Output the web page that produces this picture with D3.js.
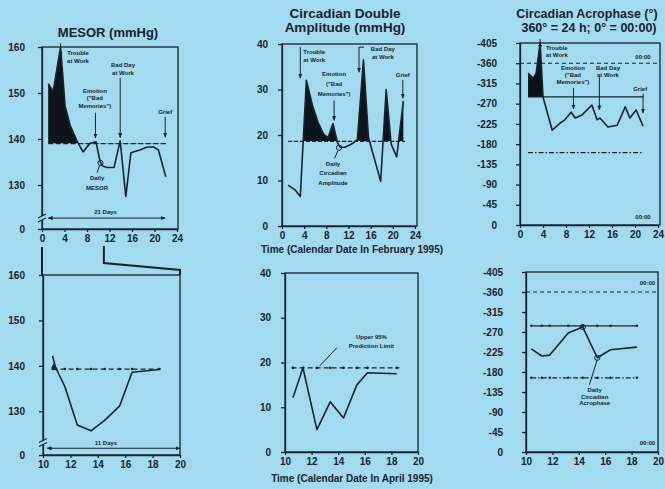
<!DOCTYPE html>
<html>
<head>
<meta charset="utf-8">
<script src="https://cdn.jsdelivr.net/npm/d3@7"></script>
<style>
body { margin: 0; background: #a2dbef; }
svg { display: block; font-family: "Liberation Sans", Arial, sans-serif; }
</style>
</head>
<body>
<script>
//february 1995 series: [calendar day, value]
var mesorFeb = [[1.1,152],[2,150.4],[3.3,160],[4.1,147.2],[5,143],[6.2,139.6],[7.3,137.2],[8.5,139],[9.6,139.4],
  [10.3,135.2],[10.7,134.2],[11.5,133.8],[12.8,133.8],[13.9,139.6],[14.9,127.5],[15.8,137],[17.4,137.6],
  [18.6,138.2],[19.8,138.3],[20.7,137.6],[22,131.8]];
var ampFeb = [[1.1,9],[2.3,8],[3.3,6.5],[4.4,32],[5.5,26.5],[6.5,22.8],[7.5,20.2],[8.3,19.4],[9.2,22.5],
  [10,18.4],[10.5,17.3],[11.4,17.3],[12.8,18.2],[13.6,19],[14.7,36.5],[15.6,19.5],[17.8,9.8],[18.8,30],
  [19.7,18],[20.7,15.2],[21.9,27.5]];
var acroFeb = [[1.4,-338],[2.3,-327],[2.8,-338],[3.5,-405],[4.0,-285],[5.6,-211],[7.0,-227],[7.8,-234],
  [8.9,-251],[9.6,-238],[10.8,-245],[12.5,-267],[13.4,-234],[13.9,-238],[15.3,-218],[16.9,-222],
  [18.3,-263],[19.1,-238],[20.2,-256],[21.4,-220]];

//april 1995 series
var mesorApr = [[10.7,142.2],[10.9,139.8],[11.6,135.4],[12.5,127],[13.5,125.7],[14.5,128],[15.6,131.2],[16.5,138.6],[18.5,139.2]];
var ampApr = [[10.6,12.1],[11.35,18.8],[12.4,5],[13.4,11.2],[14.4,7.6],[15.4,15],[16.2,17.7],[18.4,17.5]];
var acroApr = [[10.4,-232],[11.2,-216],[11.8,-218],[13.2,-268],[14.3,-281],[15.4,-212],[16.4,-230],[18.4,-236]];

//reference levels (upper 95% limits, acrophase limits, midnight)
var mesorFebRef = 139, ampFebRef = 18.6, acroFebRef = -285, acroFebLow = -161;
var mesorAprRef = 139.3, ampAprRef = 18.8, acroAprRef = -284, acroAprLow = -167;
var midnight = -360;

//ticks
var febTicks = [0,4,8,12,16,20,24];
var aprTicks = [10,12,14,16,18,20];
var mesorTicks = [0,130,140,150,160];
var ampTicks = [0,10,20,30,40];
var acroTicks = [0,-45,-90,-135,-180,-225,-270,-315,-360,-405];

var ink = "#18232c";
var bg = "#a2dbef";

var svg = d3.select("body").append("svg").attr("width", 665).attr("height", 489);
var defs = svg.append("defs");
defs.append("marker").attr("id", "head")
  .attr("viewBox", "0 0 10 10").attr("refX", 9).attr("refY", 5)
  .attr("markerWidth", 5).attr("markerHeight", 5).attr("orient", "auto-start-reverse")
  .append("path").attr("d", "M0,1L10,5L0,9z").attr("fill", ink);

//panel layout
var panels = [
  {left:42, right:177, frameR:178, top:47, bottom:229, xd:[0,24], xt:febTicks, yd:[0,125,160],
   yt:mesorTicks, pad:13, data:mesorFeb, ref:mesorFebRef, span:[1.1,22], dash:"5,2.5"},
  {left:282, right:415, frameR:417, top:44, bottom:226, xd:[0,24], xt:febTicks, yd:[0,40],
   yt:ampTicks, pad:10, data:ampFeb, ref:ampFebRef, span:[1.1,22.2], dash:"4,2"},
  {left:520, right:658, frameR:660, top:43, bottom:225, xd:[0,24], xt:febTicks, yd:[0,-405],
   yt:acroTicks, pad:19, data:acroFeb, ref:acroFebRef, span:[1.4,21.5], dash:null, low:acroFebLow},
  {left:43, right:180, frameR:180, top:275, bottom:455, xd:[10,20], xt:aprTicks, yd:[0,125,160],
   yt:mesorTicks, pad:14, data:mesorApr, ref:mesorAprRef, span:[10.7,18.5], dash:"5,3", dots:true},
  {left:285, right:418, frameR:418, top:273, bottom:452, xd:[10,20], xt:aprTicks, yd:[0,40],
   yt:ampTicks, pad:10, data:ampApr, ref:ampAprRef, span:[10.5,18.6], dash:"5,3", dots:true},
  {left:526, right:658, frameR:658, top:272, bottom:452, xd:[10,20], xt:aprTicks, yd:[0,-405],
   yt:acroTicks, pad:19, data:acroApr, ref:acroAprRef, span:[10.4,18.4], dash:null, dots:true, low:acroAprLow}
];

panels.forEach(function(p, i) {
  p.x = d3.scaleLinear().domain(p.xd).range([p.left, p.right]);
  if (p.yd.length === 3) {
    //broken axis: 0 at the bottom, then 125..160
    p.y = d3.scaleLinear().domain(p.yd).range([p.bottom, p.bottom - 21, p.top]);
  } else {
    p.y = d3.scaleLinear().domain(p.yd).range([p.bottom, p.top]);
  }
  drawPanel(p, i);
});

function drawPanel(p, i) {
  var x = p.x, y = p.y;
  var g = svg.append("g");

  //fill above the reference level
  if (!p.dots) {
    defs.append("clipPath").attr("id", "clip" + i)
      .append("rect").attr("x", p.left).attr("y", p.top - 30)
      .attr("width", p.right - p.left).attr("height", y(p.ref) - p.top + 30);
    g.append("path").datum(p.data)
      .attr("clip-path", "url(#clip" + i + ")")
      .attr("d", d3.area().x(function(d) { return x(d[0]); }).y0(y(p.ref)).y1(function(d) { return y(d[1]); }))
      .attr("fill", "#0d1318");
  }

  //frame
  g.append("rect").attr("x", p.left).attr("y", p.top)
    .attr("width", p.frameR - p.left).attr("height", p.bottom - p.top)
    .attr("fill", "none").attr("stroke", ink).attr("stroke-width", 1.3);

  //axes
  var ax = g.append("g").attr("transform", "translate(0," + p.bottom + ")")
    .call(d3.axisBottom(x).tickValues(p.xt).tickSize(3).tickSizeOuter(0).tickPadding(3));
  var ay = g.append("g").attr("transform", "translate(" + p.left + ",0)")
    .call(d3.axisLeft(y).tickValues(p.yt).tickSize(4).tickSizeOuter(0).tickPadding(p.pad)
      .tickFormat(function(d) { return String(d); }));
  [ax, ay].forEach(function(a) {
    a.attr("font-family", null).attr("font-size", 10).attr("font-weight", "bold");
    a.selectAll("path,line").attr("stroke", ink).attr("stroke-width", 1.3);
    a.selectAll("text").attr("fill", ink);
  });

  //acrophase extra levels
  if (p.low !== undefined) {
    g.append("line").attr("x1", p.left).attr("x2", p.frameR)
      .attr("y1", y(midnight)).attr("y2", y(midnight))
      .attr("stroke", ink).attr("stroke-width", 1.1).attr("stroke-dasharray", "4,3");
    g.append("line").attr("x1", x(p.span[0])).attr("x2", x(p.span[1]))
      .attr("y1", y(p.low)).attr("y2", y(p.low))
      .attr("stroke", ink).attr("stroke-width", 1.2).attr("stroke-dasharray", "5,2,1.5,2");
    if (p.dots) refDots(g, p, p.low);
  }

  //reference line
  g.append("line").attr("x1", x(p.span[0])).attr("x2", x(p.span[1]))
    .attr("y1", y(p.ref)).attr("y2", y(p.ref))
    .attr("stroke", ink).attr("stroke-width", 1.2)
    .attr("stroke-dasharray", p.dash);
  if (p.dots) refDots(g, p, p.ref);

  //daily series
  g.append("path").datum(p.data)
    .attr("d", d3.line().x(function(d) { return x(d[0]); }).y(function(d) { return y(d[1]); }))
    .attr("fill", "none").attr("stroke", ink).attr("stroke-width", 1.6).attr("stroke-linejoin", "round");

  p.g = g;
}

function refDots(g, p, level) {
  g.selectAll(null).data(p.data).enter().append("circle")
    .attr("cx", function(d) { return p.x(d[0]); }).attr("cy", p.y(level))
    .attr("r", 1.3).attr("fill", ink);
}

//helpers for annotations (positions in data units of a panel)
function note(p, d, v, lines, size) {
  var t = p.g.append("text").attr("x", p.x(d)).attr("text-anchor", "middle")
    .attr("font-size", size || 6).attr("font-weight", "bold").attr("fill", ink);
  lines.forEach(function(s, k) {
    t.append("tspan").attr("x", p.x(d)).attr("y", p.y(v[k])).attr("dy", "0.35em").text(s);
  });
}
function arrow(p, d, v1, v2) {
  p.g.append("line").attr("x1", p.x(d)).attr("x2", p.x(d)).attr("y1", p.y(v1)).attr("y2", p.y(v2))
    .attr("stroke", ink).attr("stroke-width", 1).attr("marker-end", "url(#head)");
}
function span(p, d1, d2, v) {
  p.g.append("line").attr("x1", p.x(d1)).attr("x2", p.x(d2)).attr("y1", p.y(v)).attr("y2", p.y(v))
    .attr("stroke", ink).attr("stroke-width", 1)
    .attr("marker-start", "url(#head)").attr("marker-end", "url(#head)");
}
function leader(p, d1, v1, d2, v2) {
  p.g.append("line").attr("x1", p.x(d1)).attr("y1", p.y(v1)).attr("x2", p.x(d2)).attr("y2", p.y(v2))
    .attr("stroke", ink).attr("stroke-width", 1);
}
function ring(p, d, v) {
  p.g.append("circle").attr("cx", p.x(d)).attr("cy", p.y(v)).attr("r", 2.6)
    .attr("fill", "none").attr("stroke", ink).attr("stroke-width", 1);
}
function axisBreak(p, v) {
  var yb = p.y(v), xb = p.left;
  p.g.append("rect").attr("x", xb - 2).attr("y", yb - 2).attr("width", 4).attr("height", 4).attr("fill", bg);
  [-2, 2].forEach(function(o) {
    p.g.append("line").attr("x1", xb - 4).attr("y1", yb + o + 2).attr("x2", xb + 4).attr("y2", yb + o - 2)
      .attr("stroke", ink).attr("stroke-width", 1.1);
  });
}

var P1 = panels[0], P2 = panels[1], P3 = panels[2], P4 = panels[3], P5 = panels[4], P6 = panels[5];

//MESOR, february
arrow(P1, 3.3, 160.8, 158);
note(P1, 6.4, [158.7, 157.0], ["Trouble", "at Work"]);
note(P1, 9.4, [150.4, 148.9, 147.2], ["Emotion", "(\"Bad", "Memories\")"]);
arrow(P1, 9.5, 145.7, 140.2);
note(P1, 14.4, [156.1, 154.4], ["Bad Day", "at Work"]);
arrow(P1, 13.9, 153.3, 140.3);
note(P1, 21.9, [145.8], ["Grief"]);
arrow(P1, 21.9, 144.8, 140.4);
note(P1, 9.8, [131.5, 129.3], ["Daily", "MESOR"]);
leader(P1, 9.8, 132.7, 10.3, 134.4);
ring(P1, 10.4, 134.8);
span(P1, 1.1, 21.9, 65);
note(P1, 11.3, [104], ["21 Days"]);
axisBreak(P1, 65);

//double amplitude, february
arrow(P2, 3.3, 39.3, 32.5);
note(P2, 5.8, [38.2, 36.5], ["Trouble", "at Work"]);
note(P2, 9.4, [33.4, 31.2, 29], ["Emotion", "(\"Bad", "Memories\")"]);
arrow(P2, 9.4, 27.6, 23.2);
note(P2, 18.2, [38.9, 37.1], ["Bad Day", "at Work"]);
arrow(P2, 13.9, 39.3, 33.8);
leader(P2, 13.9, 39.3, 14.8, 39.3);
note(P2, 21.8, [33.2], ["Grief"]);
arrow(P2, 21.8, 32.1, 28.1);
note(P2, 9.2, [13.6, 11.6, 9.5], ["Daily", "Circadian", "Amplitude"]);
leader(P2, 9.5, 14.9, 10.1, 16.6);
ring(P2, 10.3, 17.2);

//acrophase, february
arrow(P3, 3.5, -414, -391);
note(P3, 6.4, [-394, -379], ["Trouble", "at Work"]);
note(P3, 9.2, [-350, -334, -318], ["Emotion", "(\"Bad", "Memories\")"]);
arrow(P3, 9.3, -305, -258);
note(P3, 15.3, [-350, -334], ["Bad Day", "at Work"]);
arrow(P3, 13.8, -330, -256);
note(P3, 20.9, [-303], ["Grief"]);
arrow(P3, 21.4, -292, -249);
note(P3, 21.4, [-373], ["00:00"]);
note(P3, 21.4, [-18], ["00:00"]);

//MESOR, april
P4.g.append("path")
  .attr("d", d3.symbol().type(d3.symbolTriangle).size(14))
  .attr("transform", "translate(" + P4.x(10.8) + "," + P4.y(139.9) + ")")
  .attr("fill", ink);
span(P4, 10.3, 20, 40);
note(P4, 14.6, [75], ["11 Days"]);
axisBreak(P4, 75);

//double amplitude, april
note(P5, 16.5, [25.7, 23.7], ["Upper 95%", "Prediction Limit"]);
leader(P5, 13.9, 23.3, 12.6, 19.2);

//acrophase, april
note(P6, 15.2, [-140, -124, -110], ["Daily", "Circadian", "Acrophase"]);
leader(P6, 14.8, -151, 15.4, -208);
ring(P6, 14.3, -281);
ring(P6, 15.4, -212);
note(P6, 19.2, [-381], ["00:00"]);
note(P6, 19.2, [-20], ["00:00"]);

//connector from the february MESOR panel to the april enlargement
var cx0 = P1.x(0), cx1 = P1.x(11);
svg.append("path")
  .attr("d", "M" + cx0 + ",247V" + P4.top + "M" + cx1 + ",246V263L" + P4.frameR + ",270V" + P4.top)
  .attr("fill", "none").attr("stroke", ink).attr("stroke-width", 2);

//titles
function title(x, y, s, size) {
  svg.append("text").attr("x", x).attr("y", y).attr("text-anchor", "middle")
    .attr("font-size", size).attr("font-weight", "bold").attr("fill", ink).text(s);
}
title(108, 37, "MESOR (mmHg)", 13);
title(345, 18, "Circadian Double", 13.5);
title(345, 32, "Amplitude (mmHg)", 13.5);
title(587, 18, "Circadian Acrophase (°)", 12.5);
title(589, 32, "360° = 24 h; 0° = 00:00)", 12.5);
title(352, 253, "Time (Calendar Date In February 1995)", 10);
title(352, 482, "Time (Calendar Date In April 1995)", 10);
</script>
</body>
</html>
